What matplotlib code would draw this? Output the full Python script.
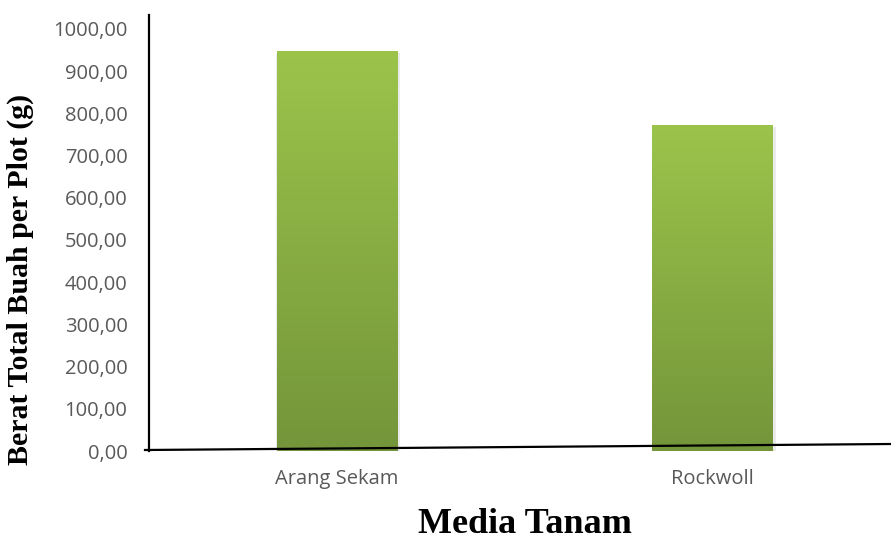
import matplotlib
matplotlib.use("Agg")
import matplotlib.pyplot as plt
import numpy as np
from matplotlib.colors import LinearSegmentedColormap
from matplotlib.lines import Line2D
from matplotlib.ticker import FuncFormatter

categories = ["Arang Sekam", "Rockwoll"]
berat_total = [948.0, 772.5]

fig = plt.figure(figsize=(8.91, 5.35), dpi=100)
ax = fig.add_axes([149 / 891, 1 - 451 / 535, 751 / 891, 436 / 535])

x = np.arange(len(categories))
bar_width = 0.32
green = LinearSegmentedColormap.from_list("green", ["#74953a", "#9cc44b"])

bars = ax.bar(x, berat_total, width=bar_width, color="none", zorder=2)
grad = np.linspace(0, 1, 256).reshape(-1, 1)
for rect in bars:
    x0, y0 = rect.get_x(), rect.get_y()
    w, h = rect.get_width(), rect.get_height()
    # soft shadow behind each bar
    ax.bar(x0 + w / 2 + 0.004, h + 4, width=w + 0.01, bottom=-8,
           color="#000000", alpha=0.08, zorder=1)
    img = ax.imshow(grad, extent=[x0, x0 + w, y0, y0 + h], origin="lower",
                    cmap=green, aspect="auto", zorder=2)
    img.set_clip_path(rect)

ax.set_xlim(-0.5, 1.5)
ax.set_ylim(0, 1033)
ax.set_yticks(np.arange(0, 1001, 100))
ax.yaxis.set_major_formatter(FuncFormatter(lambda v, p: f"{v:.2f}".replace(".", ",")))
ax.set_xticks(x)
ax.set_xticklabels(categories)
ax.tick_params(axis="both", length=0, labelsize=14.5, labelcolor="#595959")
ax.tick_params(axis="x", pad=13)
ax.tick_params(axis="y", pad=15.5)
for lbl in ax.get_xticklabels() + ax.get_yticklabels():
    lbl.set_family(["Open Sans", "DejaVu Sans"])

for side in ["top", "right", "bottom"]:
    ax.spines[side].set_visible(False)
ax.spines["left"].set_linewidth(1.6)

# slightly tilted baseline drawn across the figure
fig.add_artist(Line2D([145 / 891, 1.0], [1 - 450 / 535, 1 - 444 / 535],
                      color="black", linewidth=1.6, transform=fig.transFigure))

fig.text(525 / 891, 1 - 533 / 535, "Media Tanam", ha="center", va="baseline",
         fontsize=26, fontweight="bold", family="Liberation Serif")
fig.text(20 / 891, 1 - 279 / 535, "Berat Total Buah per Plot (g)", ha="center",
         va="center", rotation=90, fontsize=21.5, fontweight="bold",
         family="Liberation Serif")

fig.savefig("out.png", dpi=100)
